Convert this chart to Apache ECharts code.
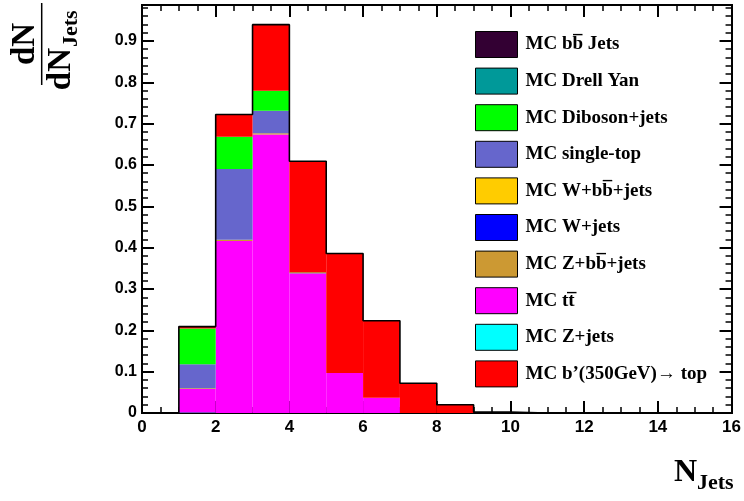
<!DOCTYPE html>
<html>
<head>
<meta charset="utf-8">
<script src="https://cdn.jsdelivr.net/npm/echarts@6/dist/echarts.min.js"></script>
<style>html,body{margin:0;padding:0;background:#fff;}#c{width:744px;height:501px;}</style>
</head>
<body>
<div id="c"></div>
<script>
// bin left edges (bin width 1)
const binLefts = [0,1,2,3,4,5,6,7,8,9,10,11,12,13,14,15];
const xTickLabels = ['0','2','4','6','8','10','12','14','16'];
const yTickLabels = ['0','0.1','0.2','0.3','0.4','0.5','0.6','0.7','0.8','0.9'];
// series values per bin (stack order bottom -> top)
const zJets     = [0,0.001,0,0,0,0,0,0,0,0,0,0,0,0,0,0];
const ttbar     = [0,0.057,0.416,0.674,0.338,0.097,0.037,0,0,0,0,0,0,0,0,0];
const zbb       = [0,0.002,0.003,0.003,0,0,0,0,0,0,0,0,0,0,0,0];
const wJets     = [0,0,0,0,0,0,0,0,0,0,0,0,0,0,0,0];
const wbb       = [0,0,0,0,0,0,0,0,0,0,0,0,0,0,0,0];
const singleTop = [0,0.058,0.171,0.054,0,0,0,0,0,0,0,0,0,0,0,0];
const diboson   = [0,0.0865,0.078,0.0485,0.002,0,0,0,0,0,0,0,0,0,0,0];
const drellYan  = [0,0,0,0,0,0,0,0,0,0,0,0,0,0,0,0];
const bbJets    = [0,0,0,0,0,0,0,0,0,0,0,0,0,0,0,0];
const bPrime    = [0,0.0045,0.054,0.160,0.269,0.289,0.186,0.072,0.020,0.002,0,0,0,0,0,0];

const yMax = 0.987;

const stack = [
  {name:'MC Z+jets', data:zJets, color:'#00FFFF'},
  {name:'MC t\u0074\u0305', data:ttbar, color:'#FF00FF'},
  {name:'MC Z+b\u0062\u0305+jets', data:zbb, color:'#CC9933'},
  {name:'MC W+jets', data:wJets, color:'#0000FF'},
  {name:'MC W+b\u0062\u0305+jets', data:wbb, color:'#FFCC00'},
  {name:'MC single-top', data:singleTop, color:'#6666CC'},
  {name:'MC Diboson+jets', data:diboson, color:'#00FF00'},
  {name:'MC Drell Yan', data:drellYan, color:'#009999'},
  {name:'MC b\u0062\u0305 Jets', data:bbJets, color:'#330033'},
  {name:'MC b\u2019(350GeV)\u2192 top', data:bPrime, color:'#FF0000'}
];
const legendOrder = [8,7,6,5,4,3,2,1,0,9].map(i => stack[i].name);

const base = binLefts.map(() => 0);
const series = stack.map(s => {
  const d = binLefts.map((x, i) => {
    const r = [x, base[i], s.data[i]];
    base[i] += s.data[i];
    return r;
  });
  return {
    type:'custom', name:s.name, xAxisIndex:0, yAxisIndex:0,
    itemStyle:{color:s.color, borderColor:'#000', borderWidth:1},
    data:d, clip:true,
    renderItem:function(params, api){
      const x = api.value(0), b = api.value(1), v = api.value(2);
      if (!v) return null;
      const p0 = api.coord([x, b]);
      const p1 = api.coord([x + 1, b + v]);
      return {type:'rect', shape:{x:p0[0], y:p1[1], width:p1[0]-p0[0], height:p0[1]-p1[1]},
              style:{fill:s.color}};
    }
  };
});
// total outline
const outline = [];
binLefts.forEach((x, i) => {
  if (i === 0 || i >= 11) return;
  outline.push([x, i === 1 ? 0 : base[i-1]]);
  outline.push([x, base[i]]);
  outline.push([x + 1, base[i]]);
});
series.push({
  type:'line', data:outline, symbol:'none', silent:true, z:5,
  lineStyle:{color:'#000', width:1.6}, legendHoverLink:false, name:'__outline'
});

const yMinor = [];
for (let k = 1; k < 50; k++) { if (k % 5) yMinor.push(+(k*0.02).toFixed(2)); }
const yMajor = yTickLabels.map(Number);
const xMinor = [];
for (let k = 1; k < 32; k++) { if (k % 4) xMinor.push(k*0.5); }
const xMajor = xTickLabels.map(Number);

const labelFont = {fontFamily:'Liberation Sans', fontWeight:'bold', color:'#000'};
function xAx(pos, withLabels, ticks, len){
  return {type:'value', position:pos, min:0, max:16, interval:2,
    axisLine:{show:true, onZero:false, lineStyle:{color:'#000', width:2}},
    axisTick:{show:true, inside:true, length:len, customValues:ticks, lineStyle:{color:'#000', width:len>8?2:1.5}},
    axisLabel:{show:withLabels, customValues:xMajor, margin:6, fontSize:17, ...labelFont},
    splitLine:{show:false}};
}
function yAx(pos, withLabels, ticks, len){
  return {type:'value', position:pos, min:0, max:yMax, interval:0.1,
    axisLine:{show:true, onZero:false, lineStyle:{color:'#000', width:2}},
    axisTick:{show:true, inside:true, length:len, customValues:ticks, lineStyle:{color:'#000', width:len>8?2:1.5}},
    axisLabel:{show:withLabels, customValues:yMajor, margin:5, fontSize:16, ...labelFont,
      formatter:function(v){ const i = yMajor.indexOf(+v.toFixed(2)); return i>=0 ? yTickLabels[i] : ''; }},
    splitLine:{show:false}};
}

const chart = echarts.init(document.getElementById('c'), null, {renderer:'canvas'});
chart.setOption({
  animation:false,
  backgroundColor:'#fff',
  grid:{left:142, right:10, top:5, bottom:88, containLabel:false},
  xAxis:[xAx('bottom', true, xMajor, 12), xAx('top', false, xMajor, 12), xAx('bottom', false, xMinor, 6), xAx('top', false, xMinor, 6)],
  yAxis:[yAx('left', true, yMajor, 12), yAx('right', false, yMajor, 12), yAx('left', false, yMinor, 6), yAx('right', false, yMinor, 6)],
  legend:{
    data:legendOrder, orient:'vertical', left:475, top:31, padding:0,
    itemWidth:42, itemHeight:26, itemGap:9.6, icon:'rect', selectedMode:false,
    itemStyle:{borderColor:'#000', borderWidth:1},
    textStyle:{fontFamily:'Liberation Serif', fontWeight:'bold', fontSize:19, color:'#000', padding:[9,0,0,3], lineHeight:16}
  },
  series:series,
  graphic:[
    {type:'group', x:41.7, y:44, rotation:Math.PI/2, children:[
      {type:'line', shape:{x1:-41, y1:0, x2:41, y2:0}, style:{stroke:'#000', lineWidth:1.5}},
      {type:'text', x:0, y:-16, style:{text:'dN', fontFamily:'Liberation Serif', fontWeight:'bold', fontSize:33, fill:'#000', align:'center', verticalAlign:'middle'}},
      {type:'text', x:-4, y:19.5, style:{text:'dN', fontFamily:'Liberation Serif', fontWeight:'bold', fontSize:33, fill:'#000', align:'right', verticalAlign:'middle'}},
      {type:'text', x:-3, y:30, style:{text:'Jets', fontFamily:'Liberation Serif', fontWeight:'bold', fontSize:22, fill:'#000', align:'left', verticalAlign:'middle'}}
    ]},
    {type:'text', x:697, y:472.5, style:{text:'N', fontFamily:'Liberation Serif', fontWeight:'bold', fontSize:32, fill:'#000', align:'right', verticalAlign:'middle'}},
    {type:'text', x:697, y:483.5, style:{text:'Jets', fontFamily:'Liberation Serif', fontWeight:'bold', fontSize:22, fill:'#000', align:'left', verticalAlign:'middle'}}
  ]
});
</script>
</body>
</html>
